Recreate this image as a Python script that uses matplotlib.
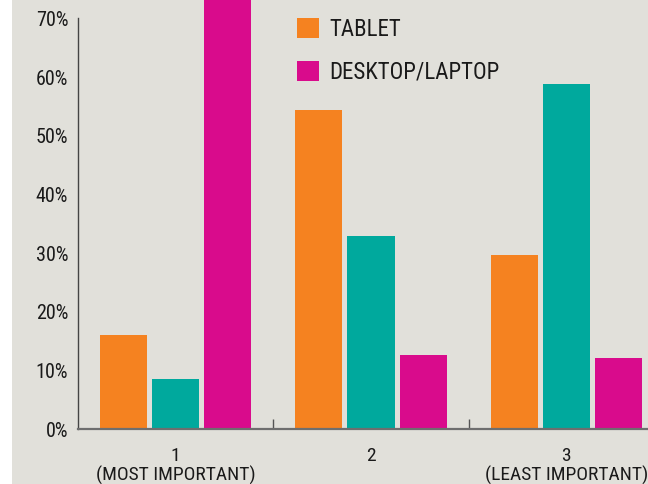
import matplotlib
matplotlib.use('Agg')
import matplotlib.pyplot as plt
from matplotlib import font_manager
from matplotlib.patches import Rectangle
import numpy as np

# Данные
groups = ['1\n(MOST IMPORTANT)', '2', '3\n(LEAST IMPORTANT)']
tablet = [16.1, 54.4, 29.7]
smartphone = [8.6, 32.9, 58.8]
desktop = [75.2, 12.7, 12.1]
yticks = [0, 10, 20, 30, 40, 50, 60, 70]

# Стиль
backcolor = '#e1e0da'
c_orange = '#f58220'
c_teal = '#00a99d'
c_magenta = '#d90b8c'
textcolor = '#1a1a1a'

# узкий шрифт, если есть
names = {f.name for f in font_manager.fontManager.ttflist}
narrow = [n for n in ['Liberation Sans Narrow', 'Roboto Condensed', 'Open Sans Condensed']
          if n in names]
plt.rcParams['font.family'] = narrow + ['DejaVu Sans']
plt.rcParams['font.stretch'] = 'condensed'

fig = plt.figure(figsize=(6.48, 4.84), dpi=100)
fig.patch.set_facecolor('white')
fig.patches.append(Rectangle((12 / 648, 0), 1, 1, transform=fig.transFigure,
                             facecolor=backcolor, edgecolor='none', zorder=-10))

ax = fig.add_axes([78 / 648, 54.7 / 484, 586 / 648, 429.3 / 484])
ax.set_facecolor('none')

x = np.arange(len(groups))
w = 47 / 195
off = 52 / 195
ax.bar(x - off, tablet, w, color=c_orange, label='TABLET')
ax.bar(x, smartphone, w, color=c_teal, label='_nolegend_')
ax.bar(x + off, desktop, w, color=c_magenta, label='DESKTOP/LAPTOP')

ax.set_xlim(-0.5, 2.5)
ax.set_ylim(0, 73.12)

for s in ['top', 'right']:
    ax.spines[s].set_visible(False)
ax.spines['left'].set_bounds(0, 70)
ax.spines['left'].set_color('#444444')
ax.spines['left'].set_linewidth(1.0)
ax.spines['bottom'].set_color('#6e6e6e')
ax.spines['bottom'].set_linewidth(1.6)

ax.set_yticks(yticks)
ax.set_yticklabels([f'{v}%' for v in yticks], fontsize=14.5, color=textcolor)
ax.tick_params(axis='y', length=0, pad=7)

ax.set_xticks(x)
ax.set_xticklabels(groups, fontsize=14, color=textcolor, linespacing=1.0)
ax.set_xticks([0.5, 1.5], minor=True)
ax.tick_params(axis='x', which='major', length=0, pad=13)
ax.tick_params(axis='x', which='minor', direction='in', length=7,
               width=1.0, color='#555555')

ax.legend(loc='upper left', bbox_to_anchor=(297 / 648, 1 - 18 / 484),
          bbox_transform=fig.transFigure, frameon=False, fontsize=16.5,
          handlelength=0.96, handleheight=0.96, handletextpad=0.45,
          labelspacing=0.85, borderpad=0, borderaxespad=0,
          labelcolor=textcolor)

plt.savefig('out.png', dpi=100, facecolor=fig.get_facecolor())
plt.close()
